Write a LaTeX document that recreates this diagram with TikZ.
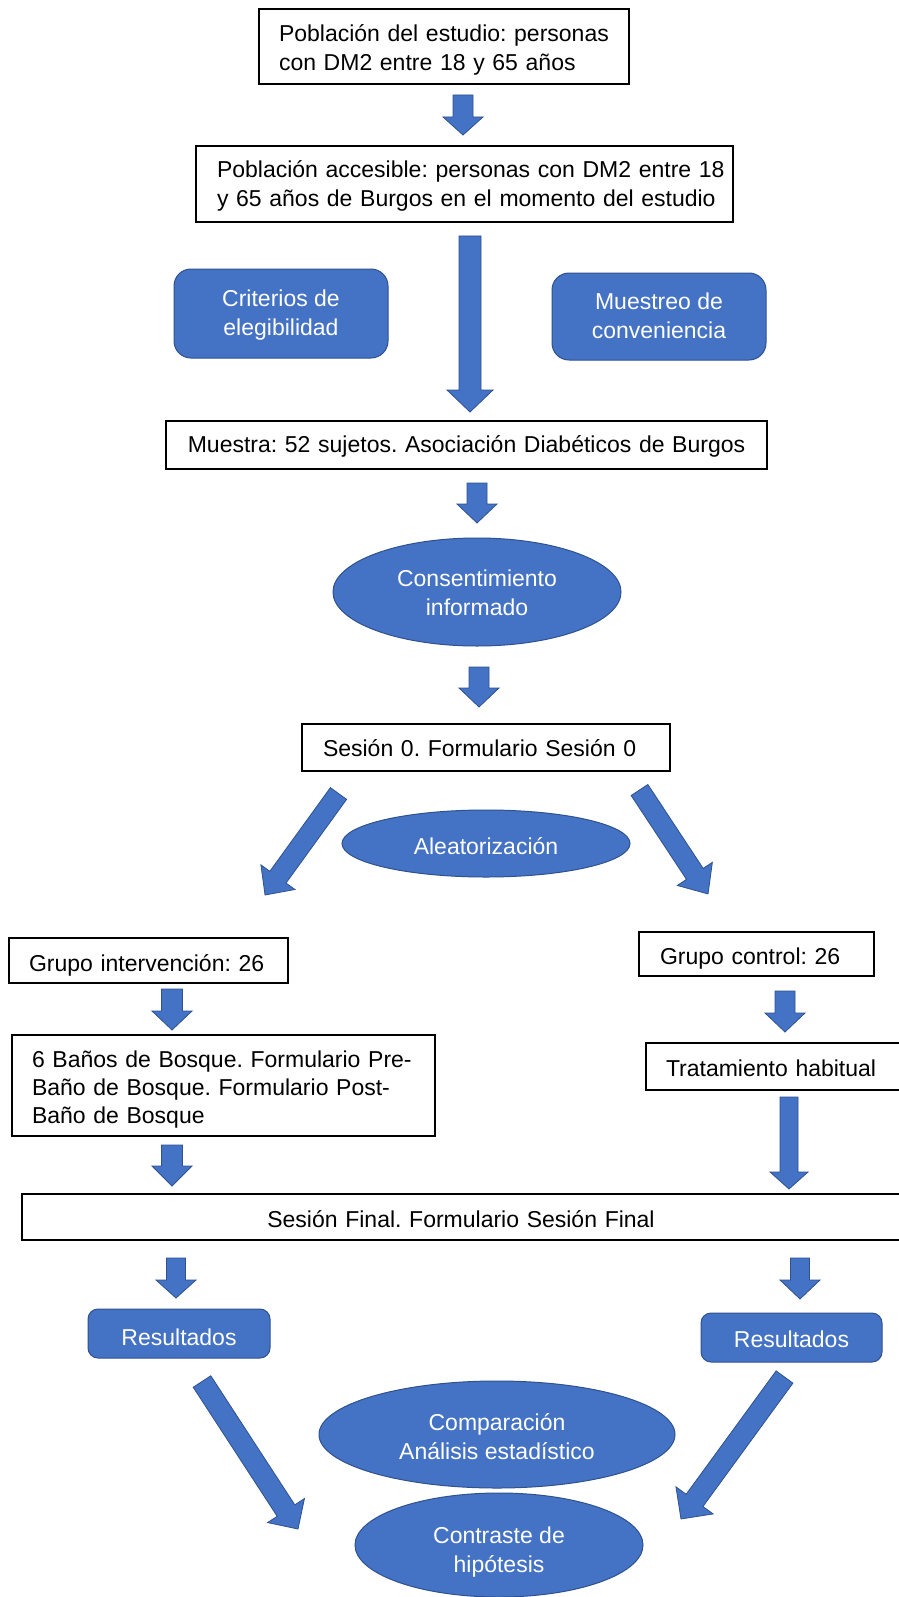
\documentclass[tikz,border=0pt]{standalone}
\usepackage{fontspec}
\setmainfont{Liberation Sans}
\usetikzlibrary{shapes.geometric}
\definecolor{accblue}{HTML}{4472C4}
\definecolor{accdark}{HTML}{2F528F}
% vertical down block arrow: cx, ytop, yheadstart, ytip, half shaft, half head
\newcommand\vdarrow[6]{\draw[blockarr] ({#1-#5},#2) -- ({#1+#5},#2) -- ({#1+#5},#3) -- ({#1+#6},#3) -- (#1,#4) -- ({#1-#6},#3) -- ({#1-#5},#3) -- cycle;}
% diagonal block arrow: tail x, tail y, angle, length, half shaft, half head, head length
\newcommand\dgarrow[7]{\begin{scope}[shift={(#1,#2)},rotate=#3]\draw[blockarr] (0,-#5) -- ({#4-#7},-#5) -- ({#4-#7},-#6) -- (#4,0) -- ({#4-#7},#6) -- ({#4-#7},#5) -- (0,#5) -- cycle;\end{scope}}
\begin{document}
\frenchspacing
\begin{tikzpicture}[x=1pt,y=-1pt,
  font=\fontsize{23pt}{29pt}\selectfont\frenchspacing,
  tb/.style 2 args={text height=#1pt, text depth=#2pt},
  wbox/.style={draw=black, line width=1.6pt, fill=white, rectangle, inner ysep=0pt, align=left},
  bbox/.style={draw=accdark, line width=1pt, fill=accblue, text=white, rectangle, align=center, inner sep=0pt},
  bell/.style={ellipse, draw=accdark, line width=1pt, fill=accblue, text=white, align=center, inner sep=0pt},
  blockarr/.style={fill=accblue, draw=accdark, line width=0.8pt, line join=miter}]
\path[use as bounding box, fill=white] (0,0) rectangle (898,1597);

% white boxes
\node[wbox, inner xsep=20pt, text width=330pt, minimum height=75pt, tb={17}{26}] (b1) at (444,46.5)
  {\mbox{Población del estudio: personas}\\\mbox{con DM2 entre 18 y 65 años}};
\node[wbox, inner xsep=21pt, text width=495pt, minimum height=76pt, tb={17}{29}] (b2) at (464.5,184)
  {\mbox{Población accesible: personas con DM2 entre 18}\\\mbox{y 65 años de Burgos en el momento del estudio}};
\node[wbox, align=center, inner xsep=21pt, text width=559pt, minimum height=48pt, tb={14}{0}] (b3) at (466.5,445)
  {\mbox{Muestra: 52 sujetos. Asociación Diabéticos de Burgos}};
\node[wbox, inner xsep=21pt, text width=326pt, minimum height=47pt, tb={17}{0}] (b4) at (486,747.5)
  {\mbox{Sesión 0. Formulario Sesión 0}};
\node[wbox, inner xsep=20pt, text width=239pt, minimum height=45pt, tb={21}{0}] (gi) at (148.5,960.5)
  {\mbox{Grupo intervención: 26}};
\node[wbox, inner xsep=21pt, text width=193pt, minimum height=44pt, tb={20}{0}] (gc) at (756.5,954)
  {\mbox{Grupo control: 26}};
\node[wbox, inner xsep=20pt, text width=383pt, minimum height=101pt, tb={17}{54}, font=\fontsize{23pt}{28pt}\selectfont\frenchspacing] (bb) at (223.5,1085.5)
  {\mbox{6 Baños de Bosque. Formulario Pre-}\\\mbox{Baño de Bosque. Formulario Post-}\\\mbox{Baño de Bosque}};
\node[wbox, inner xsep=20pt, text width=214pt, minimum height=47pt, tb={19}{0}] (tr) at (773,1066.5)
  {\mbox{Tratamiento habitual}};
\node[wbox, align=center, inner xsep=20pt, text width=838pt, minimum height=46pt, tb={20}{0}] (sf) at (461,1217)
  {\mbox{Sesión Final. Formulario Sesión Final}};

% blue rounded boxes
\node[bbox, minimum width=214pt, minimum height=89pt, rounded corners=17pt, tb={43}{0}] (cr) at (281,313.5) {Criterios de\\elegibilidad};
\node[bbox, minimum width=214pt, minimum height=87pt, rounded corners=17pt, tb={43}{0}] (mu) at (659,316.5) {Muestreo de\\conveniencia};
\node[bbox, minimum width=182pt, minimum height=49pt, rounded corners=10pt, tb={23}{0}] (r1) at (179,1333.5) {Resultados};
\node[bbox, minimum width=181pt, minimum height=49pt, rounded corners=10pt, tb={19}{0}] (r2) at (791.5,1337.5) {Resultados};

% ellipses
\node[bell, minimum width=288pt, minimum height=108pt, tb={46}{0}] (ci) at (477,592) {Consentimiento\\informado};
\node[bell, minimum width=288pt, minimum height=67pt, tb={21}{0}] (al) at (486,843.5) {Aleatorización};
\node[bell, minimum width=356pt, minimum height=107pt, tb={49}{0}] (co) at (497,1434.5) {Comparación\\Análisis estadístico};
\node[bell, minimum width=288pt, minimum height=104pt, tb={54}{0}] (ch) at (499,1545) {Contraste de\\hipótesis};

% block arrows
\vdarrow{463}{95}{117}{135}{10}{20}
\vdarrow{470}{236}{390}{412}{11}{23}
\vdarrow{477}{483}{504}{523}{10}{20}
\vdarrow{479}{667}{688}{707}{10}{20}
\vdarrow{172}{989}{1011}{1030}{10.5}{20}
\vdarrow{785}{991}{1013}{1032}{10}{20}
\vdarrow{172}{1145}{1166}{1186}{10.5}{20}
\vdarrow{789}{1097}{1172}{1189}{9}{19}
\vdarrow{176}{1258}{1280}{1298}{9.5}{20}
\vdarrow{800}{1258}{1280}{1299}{9.5}{20}

\dgarrow{338.5}{793.5}{-125.9}{125.3}{10}{21}{22}
\dgarrow{639.5}{790}{-56.6}{124.5}{10}{21}{24}
\dgarrow{202}{1381.5}{-56.94}{176}{10.5}{22}{22}
\dgarrow{784.5}{1377}{-126.1}{175.7}{10.4}{23}{23}
\end{tikzpicture}
\end{document}
